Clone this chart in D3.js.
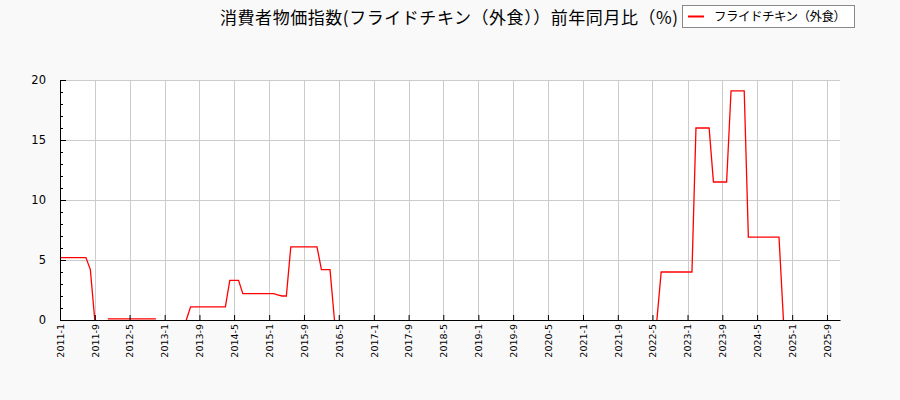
<!DOCTYPE html>
<html>
<head>
<meta charset="utf-8">
<script src="https://cdn.jsdelivr.net/npm/d3@7"></script>
<style>
  body { margin: 0; background: #f9f9f9; }
  svg { display: block; }
</style>
</head>
<body>
<svg id="chart" width="900" height="400"></svg>
<script>
// monthly series, first month 2011-1, one row per year
var startMonth = "2011-01";
var values = [
  5.2, 5.2, 5.2, 5.2, 5.2, 5.2, 5.2, 4.2, 0, null, null, 0.1,     // 2011
  0.1, 0.1, 0.1, 0.1, 0.1, 0.1, 0.1, 0.1, 0.1, 0.1, 0.1, null,    // 2012
  null, null, null, null, null, 0, 1.1, 1.1, 1.1, 1.1, 1.1, 1.1,  // 2013
  1.1, 1.1, 1.1, 3.3, 3.3, 3.3, 2.2, 2.2, 2.2, 2.2, 2.2, 2.2,     // 2014
  2.2, 2.2, 2.1, 2.0, 2.0, 6.1, 6.1, 6.1, 6.1, 6.1, 6.1, 6.1,     // 2015
  4.2, 4.2, 4.2, 0, null, null, null, null, null, null, null, null, // 2016
  null, null, null, null, null, null, null, null, null, null, null, null, // 2017
  null, null, null, null, null, null, null, null, null, null, null, null, // 2018
  null, null, null, null, null, null, null, null, null, null, null, null, // 2019
  null, null, null, null, null, null, null, null, null, null, null, null, // 2020
  null, null, null, null, null, null, null, null, null, null, null, null, // 2021
  null, null, null, null, null, 0, 4.0, 4.0, 4.0, 4.0, 4.0, 4.0,  // 2022
  4.0, 4.0, 16.0, 16.0, 16.0, 16.0, 11.5, 11.5, 11.5, 11.5, 19.1, 19.1, // 2023
  19.1, 19.1, 6.9, 6.9, 6.9, 6.9, 6.9, 6.9, 6.9, 6.9, 0           // 2024
];
var xTickLabels = ["2011-1", "2011-9", "2012-5", "2013-1", "2013-9", "2014-5", "2015-1",
  "2015-9", "2016-5", "2017-1", "2017-9", "2018-5", "2019-1", "2019-9", "2020-5",
  "2021-1", "2021-9", "2022-5", "2023-1", "2023-9", "2024-5", "2025-1", "2025-9"];
var yTicks = [0, 5, 10, 15, 20];
var titleText = "消費者物価指数(フライドチキン（外食））前年同月比（%)";
var seriesName = "フライドチキン（外食）";

var svg = d3.select("#chart");
var margin = {left: 60, right: 60, top: 80, bottom: 80};
var W = 900, H = 400;

var parseMonth = d3.timeParse("%Y-%m");
var parseTick = d3.timeParse("%Y-%-m");
var t0 = parseMonth(startMonth);
var data = values.map(function(v, i) {
  return {date: d3.timeMonth.offset(t0, i), value: v};
});

var x = d3.scaleTime()
  .domain([t0, parseMonth("2025-12")])
  .range([margin.left, W - margin.right]);
var y = d3.scaleLinear()
  .domain([0, 20])
  .range([H - margin.bottom, margin.top]);

// plot background
svg.append("rect")
  .attr("x", margin.left).attr("y", margin.top)
  .attr("width", W - margin.left - margin.right)
  .attr("height", H - margin.top - margin.bottom)
  .attr("fill", "#fff");

var tickDates = xTickLabels.map(function(s) { return parseTick(s); });

// grid
svg.append("g").selectAll("line.vg").data(tickDates).enter().append("line")
  .attr("x1", function(d) { return Math.round(x(d)) + 0.5; })
  .attr("x2", function(d) { return Math.round(x(d)) + 0.5; })
  .attr("y1", y(20)).attr("y2", y(0))
  .attr("stroke", "#cccccc").attr("stroke-width", 1);
svg.append("g").selectAll("line.hg").data(yTicks).enter().append("line")
  .attr("x1", margin.left).attr("x2", W - margin.right)
  .attr("y1", function(d) { return Math.round(y(d)) + 0.5; })
  .attr("y2", function(d) { return Math.round(y(d)) + 0.5; })
  .attr("stroke", "#cccccc").attr("stroke-width", 1);

// series
var line = d3.line()
  .defined(function(d) { return d.value !== null; })
  .x(function(d) { return x(d.date); })
  .y(function(d) { return y(d.value); });
svg.append("path").datum(data)
  .attr("d", line)
  .attr("fill", "none")
  .attr("stroke", "red")
  .attr("stroke-width", 1.3);

// x axis (ticks inward)
var xAxis = d3.axisBottom(x)
  .tickValues(tickDates)
  .tickSizeInner(-5).tickSizeOuter(0)
  .tickFormat(function(d, i) { return xTickLabels[i]; });
var gx = svg.append("g")
  .attr("transform", "translate(0," + y(0) + ")")
  .call(xAxis);
gx.select(".domain").attr("stroke", "#000");
gx.selectAll(".tick line").attr("stroke", "#000");
gx.selectAll(".tick text")
  .attr("font-family", "DejaVu Sans")
  .attr("font-size", 9.5)
  .attr("fill", "#000")
  .attr("text-anchor", "end")
  .attr("transform", "rotate(-90)")
  .attr("x", -4).attr("y", 0).attr("dy", "0.35em");

// y axis with minor ticks
var yAxisMinor = d3.axisLeft(y).tickValues(d3.range(0, 21))
  .tickSizeInner(-3).tickSizeOuter(0).tickFormat("");
var gym = svg.append("g").attr("transform", "translate(" + margin.left + ",0)").call(yAxisMinor);
gym.selectAll(".tick line").attr("stroke", "#000");
gym.select(".domain").attr("stroke", "#000");

var yAxis = d3.axisLeft(y).tickValues(yTicks)
  .tickSizeInner(-6).tickSizeOuter(0).tickPadding(14);
var gy = svg.append("g").attr("transform", "translate(" + margin.left + ",0)").call(yAxis);
gy.select(".domain").remove();
gy.selectAll(".tick line").attr("stroke", "#000");
gy.selectAll(".tick text")
  .attr("font-family", "DejaVu Sans")
  .attr("font-size", 11.5)
  .attr("fill", "#000");

// title
svg.append("text")
  .attr("x", 449).attr("y", 24)
  .attr("text-anchor", "middle")
  .attr("font-family", "Noto Sans CJK JP")
  .attr("font-size", 17)
  .attr("textLength", 458)
  .attr("lengthAdjust", "spacing")
  .attr("fill", "#000")
  .text(titleText);

// legend
var lg = svg.append("g");
lg.append("rect")
  .attr("x", 682.5).attr("y", 5.5).attr("width", 172).attr("height", 22)
  .attr("fill", "#fff").attr("stroke", "#888");
lg.append("line")
  .attr("x1", 688).attr("x2", 704).attr("y1", 16.5).attr("y2", 16.5)
  .attr("stroke", "red").attr("stroke-width", 2);
lg.append("text")
  .attr("x", 714).attr("y", 21)
  .attr("font-family", "Noto Sans CJK JP")
  .attr("font-size", 12.5)
  .attr("textLength", 132)
  .attr("lengthAdjust", "spacing")
  .attr("fill", "#000")
  .text(seriesName);
</script>
</body>
</html>
